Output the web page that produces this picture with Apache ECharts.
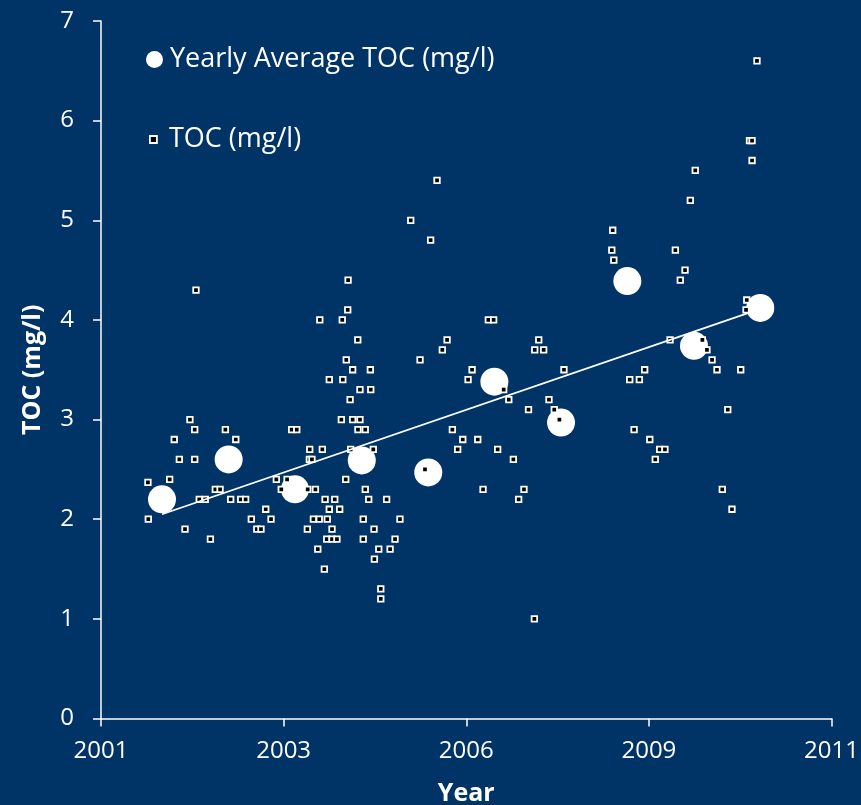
<!DOCTYPE html>
<html>
<head>
<meta charset="utf-8">
<script src="https://cdn.jsdelivr.net/npm/echarts@6/dist/echarts.min.js"></script>
<style>
html,body{margin:0;padding:0;background:#003366;overflow:hidden;}
#chart{width:861px;height:805px;}
</style>
</head>
<body>
<div id="chart"></div>
<script>
// x values: days since 2001-01-01
const sampleDays = [257,259,376,401,429,460,487,513,513,520,538,571,599,626,652,681,710,738,765,792,823,853,876,902,931,960,987,1019,1044,1072,1130,1132,1143,1141,1155,1163,1174,1187,1195,1198,1212,1223,1227,1236,1239,1250,1250,1265,1265,1280,1292,1307,1316,1321,1324,1340,1343,1351,1353,1364,1367,1378,1378,1406,1407,1418,1418,1436,1436,1447,1447,1466,1475,1477,1491,1495,1497,1521,1532,1532,1564,1583,1610,1637,1696,1747,1774,1805,1840,1869,1895,1924,1953,1981,2010,2032,2063,2092,2121,2150,2172,2205,2233,2258,2287,2316,2341,2373,2375,2397,2424,2453,2482,2510,2535,2797,2802,2808,2895,2919,2948,2977,3005,3035,3059,3088,3116,3145,3172,3198,3227,3254,3293,3318,3346,3373,3402,3432,3455,3503,3536,3532,3551,3565,3565,3592];
const tocValues = [2.37,2.0,2.4,2.8,2.6,1.9,3.0,2.9,2.6,4.3,2.2,2.2,1.8,2.3,2.3,2.9,2.2,2.8,2.2,2.2,2.0,1.9,1.9,2.1,2.0,2.4,2.3,2.4,2.9,2.9,1.9,2.3,2.7,2.6,2.6,2.0,2.3,1.7,2.0,4.0,2.7,1.5,2.2,1.8,2.0,2.1,3.4,1.9,1.8,2.2,1.8,2.1,3.0,4.0,3.4,2.4,3.6,4.1,4.4,3.2,2.7,3.5,3.0,3.8,2.9,3.3,3.0,2.0,1.8,2.9,2.3,2.2,3.5,3.3,2.7,1.9,1.6,1.7,1.3,1.2,2.2,1.7,1.8,2.0,5.0,3.6,2.5,4.8,5.4,3.7,3.8,2.9,2.7,2.8,3.4,3.5,2.8,2.3,4.0,4.0,2.7,3.3,3.2,2.6,2.2,2.3,3.1,1.0,3.7,3.8,3.7,3.2,3.1,3.0,3.5,4.7,4.9,4.6,3.4,2.9,3.4,3.5,2.8,2.6,2.7,2.7,3.8,4.7,4.4,4.5,5.2,5.5,3.8,3.7,3.6,3.5,2.3,3.1,2.1,3.5,4.2,4.1,5.8,5.8,5.6,6.6];
const avgDays = [334,699,1062,1428,1792,2154,2519,2882,3247,3610];
const avgValues = [2.2,2.6,2.3,2.59,2.47,3.38,2.97,4.39,3.74,4.12];
const trendDays = [334,3610];
const trendValues = [2.05,4.11];
const yTicks = [0,1,2,3,4,5,6,7];
const xTickDays = [0,1000,2000,3000,4000];

const FONT = 'Open Sans';
const startMs = Date.UTC(2001,0,1);
function yearOf(d){ return String(new Date(startMs + d*86400000).getUTCFullYear()); }

const chart = echarts.init(document.getElementById('chart'), null, {renderer:'canvas', width:861, height:805});
chart.setOption({
  animation:false,
  backgroundColor:'#003366',
  textStyle:{fontFamily:FONT},
  grid:{left:101, right:29.5, top:21, bottom:86.5, containLabel:false, outerBoundsMode:'none'},
  legend:[
    {data:[{name:'Yearly Average TOC (mg/l)', icon:'circle', itemStyle:{color:'#fff', borderWidth:0, opacity:1}}],
     left:146, top:46, padding:0, itemWidth:21, itemHeight:17,
     textStyle:{color:'#fff', fontSize:27, fontFamily:FONT}},
    {data:[{name:'TOC (mg/l)', icon:'path://M0,0L10,0L10,10L0,10Z', itemStyle:{color:'#000', borderColor:'#fff', borderWidth:1.8, opacity:1}}],
     left:149, top:126, padding:0, itemWidth:21, itemHeight:7, symbolKeepAspect:true,
     textStyle:{color:'#fff', fontSize:27, fontFamily:FONT}}
  ],
  xAxis:{
    type:'value', min:xTickDays[0], max:xTickDays[xTickDays.length-1], interval:1000,
    name:'Year', nameLocation:'middle', nameGap:63,
    nameTextStyle:{color:'#fff', fontSize:25, fontWeight:'bold', fontFamily:FONT},
    axisLine:{lineStyle:{color:'#fff', width:1.5}},
    axisTick:{show:true, length:8, lineStyle:{color:'#fff', width:1.5}},
    axisLabel:{color:'#fff', fontSize:24, fontFamily:FONT, margin:21, formatter:v=>yearOf(v)},
    splitLine:{show:false}
  },
  yAxis:{
    type:'value', min:yTicks[0], max:yTicks[yTicks.length-1], interval:1,
    name:'TOC (mg/l)', nameLocation:'middle', nameGap:56,
    nameTextStyle:{color:'#fff', fontSize:25, fontWeight:'bold', fontFamily:FONT},
    axisLine:{show:true, lineStyle:{color:'#fff', width:1.5}},
    axisTick:{show:true, length:8, lineStyle:{color:'#fff', width:1.5}},
    axisLabel:{color:'#fff', fontSize:24, fontFamily:FONT, margin:27},
    splitLine:{show:false}
  },
  series:[
    {name:'Yearly Average TOC (mg/l)', type:'scatter', symbol:'circle', symbolSize:28,
     itemStyle:{color:'#fff', opacity:1}, data:avgDays.map((d,i)=>[d,avgValues[i]]), z:2},
    {name:'TOC (mg/l)', type:'scatter', symbol:'rect', symbolSize:5.5,
     itemStyle:{color:'#000', borderColor:'#fff', borderWidth:1.8, opacity:1}, data:sampleDays.map((d,i)=>[d,tocValues[i]]), z:3},
    {name:'trend', type:'line', symbol:'none', lineStyle:{color:'#fff', width:1.8},
     data:trendDays.map((d,i)=>[d,trendValues[i]]), z:4, silent:true}
  ]
});
</script>
</body>
</html>
